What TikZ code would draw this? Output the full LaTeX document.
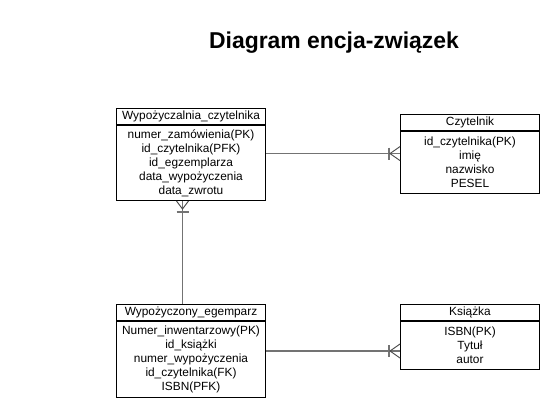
\documentclass[tikz,border=0pt]{standalone}
\usepackage{fontspec}
\setmainfont{Liberation Sans}
\usetikzlibrary{calc}

\begin{document}
\begin{tikzpicture}[
        x=0.75pt, y=-0.75pt,
        title/.style={font=\bfseries\fontsize{17.2}{20}\selectfont},
        enthead/.style={draw, anchor=north west, minimum height=16*0.75pt, inner sep=0pt, line width=0.75pt},
        entbody/.style={draw, anchor=north, align=center, inner sep=0pt, line width=0.75pt},
        wide/.style={minimum width=149*0.75pt},
        narrow/.style={minimum width=139*0.75pt},
        rel/.style={draw=black!55, line width=1.1pt},
        foot/.style={draw=black!70, line width=0.7pt},
        every node/.style={font=\fontsize{8.9}{10.5}\selectfont}
    ]
    \useasboundingbox (0,0) rectangle (542,418);

    % Title
    \node[title] (title) at (334,43) {Diagram encja-związek};

    % Wypozyczalnia_czytelnika
    \node[enthead, wide] (h1) at (116,108) {Wypożyczalnia\_czytelnika};
    \node[entbody, wide, minimum height=75*0.75pt] (b1) at (h1.south) {numer\_zamówienia(PK)\\id\_czytelnika(PFK)\\id\_egzemplarza\\data\_wypożyczenia\\data\_zwrotu};

    % Czytelnik
    \node[enthead, narrow] (h2) at (400,114) {Czytelnik};
    \node[entbody, narrow, minimum height=62*0.75pt] (b2) at (h2.south) {id\_czytelnika(PK)\\imię\\nazwisko\\PESEL};

    % Wypozyczony_egemparz
    \node[enthead, wide] (h3) at (116,304) {Wypożyczony\_egemparz};
    \node[entbody, wide, minimum height=76*0.75pt] (b3) at (h3.south) {Numer\_inwentarzowy(PK)\\id\_książki\\numer\_wypożyczenia\\id\_czytelnika(FK)\\ISBN(PFK)};

    % Ksiazka
    \node[enthead, narrow] (h4) at (400,304) {Książka};
    \node[entbody, narrow, minimum height=48*0.75pt] (b4) at (h4.south) {ISBN(PK)\\Tytuł\\autor};

    % Connection points
    \coordinate (r1) at ($(h1.north east)!0.49!(b1.south east)$);
    \coordinate (r3) at ($(h3.north east)!0.5!(b3.south east)$);
    \coordinate (d1) at ($(b1.south)+(-8.5,0)$);

    % Wypozyczalnia_czytelnika -- Czytelnik
    \draw[rel] (r1) -- (r1 -| b2.west);
    \draw[rel] ($(r1 -| b2.west)+(-11,-6)$) -- ($(r1 -| b2.west)+(-11,6)$);
    \draw[foot] ($(r1 -| b2.west)+(0,-7)$) -- ($(r1 -| b2.west)+(-10,0)$) -- ($(r1 -| b2.west)+(0,7)$);

    % Wypozyczalnia_czytelnika -- Wypozyczony_egemparz
    \draw[rel] (d1) -- (d1 |- h3.north);
    \draw[rel] ($(d1)+(-6,11)$) -- ($(d1)+(6,11)$);
    \draw[foot] ($(d1)+(-6,0)$) -- ($(d1)+(0,8)$) -- ($(d1)+(6,0)$);

    % Wypozyczony_egemparz -- Ksiazka
    \draw[rel] (r3) -- (r3 -| b4.west);
    \draw[rel] ($(r3 -| b4.west)+(-11,-6)$) -- ($(r3 -| b4.west)+(-11,6)$);
    \draw[foot] ($(r3 -| b4.west)+(0,-7)$) -- ($(r3 -| b4.west)+(-10,0)$) -- ($(r3 -| b4.west)+(0,7)$);

\end{tikzpicture}
\end{document}
